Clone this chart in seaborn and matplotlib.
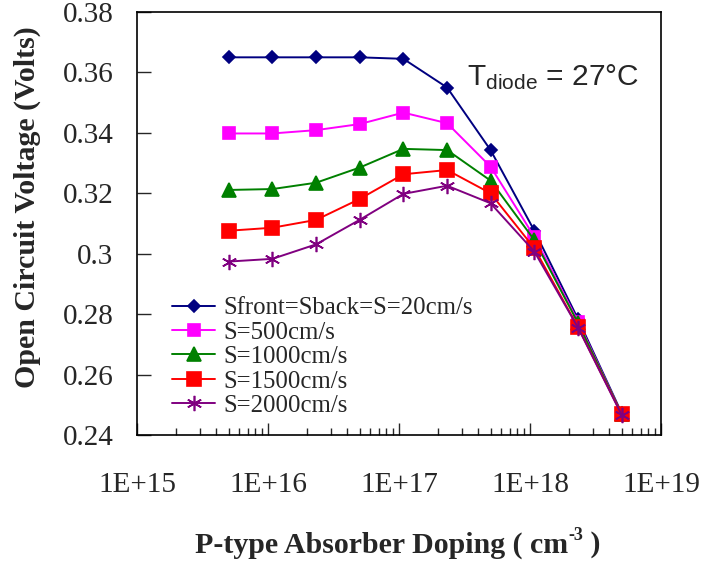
import matplotlib
matplotlib.use("Agg")
import matplotlib.pyplot as plt
import seaborn as sns
import pandas as pd

doping = [5e15, 1.08e16, 2.33e16, 5e16, 1.08e17, 2.33e17, 5e17, 1.08e18, 2.33e18, 5e18]
s20 = [0.3650, 0.3650, 0.3650, 0.3650, 0.3645, 0.3550, 0.3343, 0.3076, 0.2783, 0.2473]
s500 = [0.3398, 0.3398, 0.3409, 0.3429, 0.3467, 0.3432, 0.3288, 0.3056, 0.2775, 0.2470]
s1000 = [0.3211, 0.3214, 0.3235, 0.3285, 0.3347, 0.3343, 0.3242, 0.3045, 0.2770, 0.2470]
s1500 = [0.3076, 0.3086, 0.3112, 0.3181, 0.3263, 0.3277, 0.3200, 0.3018, 0.2756, 0.2469]
s2000 = [0.2974, 0.2983, 0.3031, 0.3112, 0.3198, 0.3225, 0.3167, 0.3007, 0.2755, 0.2467]
labels = ["Sfront=Sback=S=20cm/s", "S=500cm/s", "S=1000cm/s", "S=1500cm/s", "S=2000cm/s"]
xtick_vals = [1e15, 1e16, 1e17, 1e18, 1e19]
xtick_labels = ["1E+15", "1E+16", "1E+17", "1E+18", "1E+19"]
ytick_vals = [0.24, 0.26, 0.28, 0.30, 0.32, 0.34, 0.36, 0.38]
ytick_labels = ["0.24", "0.26", "0.28", "0.3", "0.32", "0.34", "0.36", "0.38"]

sns.set_style("ticks")
plt.rcParams["font.family"] = ["Liberation Serif", "DejaVu Serif"]
plt.rcParams["mathtext.default"] = "regular"

fig = plt.figure(figsize=(7.05, 5.63), dpi=100)
W, H = 705, 563
ax = fig.add_axes([137 / W, 1 - 435 / H, (661 - 137) / W, (435 - 12) / H])

styles = [
    ("#000080", "D", 6.5),
    ("#FF00FF", "s", 8),
    ("#008000", "^", 9.5),
    ("#FF0000", "s", 10.5),
    ("#800080", (6, 2, 0), 11),
]
series = [s20, s500, s1000, s1500, s2000]
for vals, lab, (c, m, ms) in zip(series, labels, styles):
    df = pd.DataFrame({"x": doping, "y": vals})
    sns.lineplot(data=df, x="x", y="y", ax=ax, color=c, marker=m, markersize=ms,
                 markeredgecolor=c, markerfacecolor=c, markeredgewidth=1.2,
                 linewidth=1.4, label=lab)

ax.set_xscale("log")
ax.set_xlim(1e15, 1e19)
ax.set_ylim(0.24, 0.38)
ax.set_yticks(ytick_vals)
ax.set_yticklabels(ytick_labels, fontsize=21)
ax.set_xticks(xtick_vals)
ax.set_xticklabels(xtick_labels, fontsize=21)
ax.tick_params(axis="both", which="both", direction="in", top=False, right=False)
ax.tick_params(axis="y", which="major", length=10, width=1, pad=17)
ax.tick_params(axis="x", which="major", length=9, width=1, pad=27)
ax.tick_params(axis="x", which="minor", length=5, width=1)
for sp in ax.spines.values():
    sp.set_visible(True)
    sp.set_linewidth(1.2)
    sp.set_color("black")
ax.set_xlabel("")
ax.set_ylabel("")

fig.text(27 / W, 1 - 207 / H, "Open Circuit Voltage (Volts)", rotation=90,
         ha="center", va="center", fontsize=21.5, fontweight="bold")

# x-axis title with a small superscript
fig.canvas.draw()
r = fig.canvas.get_renderer()
ylab = 1 - 545 / H
t1 = fig.text(0, ylab, "P-type Absorber Doping ( cm", ha="left", va="center",
              fontsize=21.5, fontweight="bold")
t2 = fig.text(0, ylab + 10 / H, "-3", ha="left", va="center",
              fontsize=13, fontweight="bold")
t3 = fig.text(0, ylab, " )", ha="left", va="center", fontsize=21.5, fontweight="bold")
w1 = t1.get_window_extent(r).width
w2 = t2.get_window_extent(r).width
w3 = t3.get_window_extent(r).width
x0 = 398 - (w1 + w2 + w3) / 2
t1.set_x(x0 / W)
t2.set_x((x0 + w1) / W)
t3.set_x((x0 + w1 + w2) / W)

ax.text(0.630, 0.846, "T$_{diode}$ = 27°C", transform=ax.transAxes,
        fontsize=21.5, family=["Liberation Sans", "DejaVu Sans"], ha="left", va="center")

leg = ax.legend(loc="upper left", bbox_to_anchor=((172 - 137) / 524, (435 - 297) / 423),
                frameon=False, fontsize=17.8, handlelength=1.75, handletextpad=0.32,
                labelspacing=0.085, borderaxespad=0, borderpad=0)

fig.savefig("out.png", dpi=100)
